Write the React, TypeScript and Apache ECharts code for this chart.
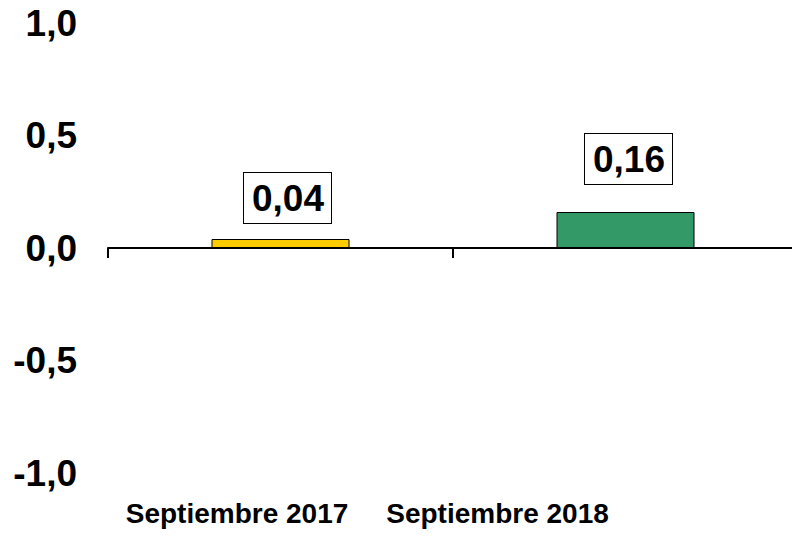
import React, { useEffect, useRef } from "react";
import * as echarts from "echarts";

const categories = ["Septiembre 2017", "Septiembre 2018"];
const values = [0.04, 0.16];
const barColors = ["#FFCC00", "#339966"];
const yTicks = { min: -1, max: 1, interval: 0.5 };

const FONT = "'Liberation Sans', Arial, sans-serif";

export default function App() {
  const ref = useRef<HTMLDivElement>(null);
  useEffect(() => {
    if (!ref.current) return;
    const chart = echarts.init(ref.current, null, { renderer: "svg" });
    const labelDist = [16, 28];
    const labelOffX = [7, 3];
    const catShift = [87, 256];
    chart.setOption({
      animation: false,
      backgroundColor: "#ffffff",
      grid: { left: 108, right: 2, top: 23, bottom: 68, containLabel: false },
      xAxis: [
        {
          type: "category",
          data: categories,
          position: "bottom",
          axisLine: { show: true, onZero: true, lineStyle: { color: "#000", width: 2 } },
          axisTick: { show: true, length: 10, lineStyle: { color: "#000", width: 2 } },
          axisLabel: { show: false },
          splitLine: { show: false },
        },
        {
          type: "category",
          data: categories,
          position: "bottom",
          axisLine: { show: false, onZero: false },
          axisTick: { show: false },
          splitLine: { show: false },
          axisLabel: {
            show: true,
            interval: 0,
            margin: 26,
            formatter: (v: string, i: number) => `{c${i}|${v}}`,
            rich: Object.fromEntries(
              categories.map((_, i) => [
                `c${i}`,
                {
                  fontFamily: FONT,
                  fontWeight: "bold",
                  fontSize: 28,
                  color: "#000",
                  padding: [0, catShift[i], 0, 0],
                },
              ])
            ),
          },
        },
      ],
      yAxis: {
        type: "value",
        min: yTicks.min,
        max: yTicks.max,
        interval: yTicks.interval,
        axisLine: { show: false },
        axisTick: { show: false },
        splitLine: { show: false },
        axisLabel: {
          margin: 31,
          fontFamily: FONT,
          fontWeight: "bold",
          fontSize: 37,
          color: "#000",
          formatter: (v: number) => v.toFixed(1).replace(".", ","),
        },
      },
      series: [
        {
          type: "bar",
          xAxisIndex: 0,
          barWidth: "40%",
          data: values.map((v, i) => ({
            value: v,
            itemStyle: { color: barColors[i], borderColor: "#000", borderWidth: 1 },
            label: {
              show: true,
              position: "top",
              distance: labelDist[i],
              offset: [labelOffX[i], 0],
              formatter: () => v.toFixed(2).replace(".", ","),
              fontFamily: FONT,
              fontWeight: "bold",
              fontSize: 37,
              color: "#000",
              backgroundColor: "#fff",
              borderColor: "#000",
              borderWidth: 1,
              padding: [7, 7, 6, 8],
            },
          })),
        },
      ],
    });
    return () => chart.dispose();
  }, []);
  return (
    <div
      style={{ position: "absolute", left: 0, top: 0, width: 792, height: 541, overflow: "hidden" }}
    >
      <div ref={ref} style={{ width: 800, height: 541 }} />
    </div>
  );
}
